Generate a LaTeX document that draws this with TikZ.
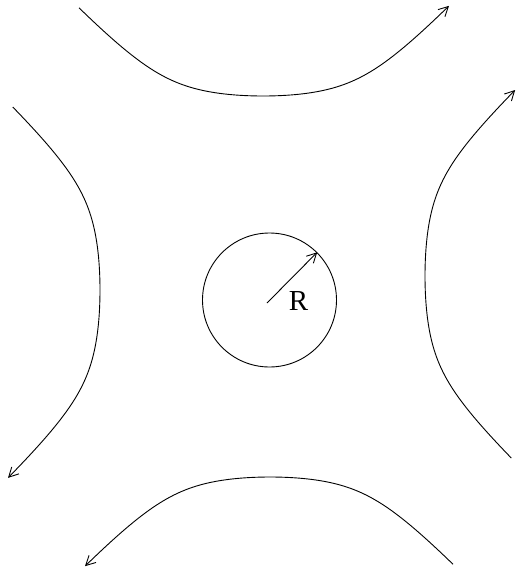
\documentclass[tikz,border=0pt]{standalone}
\usepackage{fontspec}
\setmainfont{Liberation Serif}
\usetikzlibrary{arrows.meta}
\begin{document}
\begin{tikzpicture}[x=1pt,y=-1pt,
  declare function={G(\x)=(\x+sqrt(\x*\x+0.36))/2;
                    F(\u)=108*(G(\u-0.98)+G(-\u-0.98)-2*G(-0.98));},
  flow/.style={line width=0.9pt},
  tip/.style={-{Straight Barb[length=9.5pt,width=10pt,line width=0.9pt]}},
  lbl/.style={font=\fontsize{29}{32}\selectfont, inner sep=0pt}]
\useasboundingbox (0,0) rectangle (516,573);
% top (left to right)
\draw[flow,tip] plot[domain=-1.84:1.86, samples=100, variable=\u, smooth]
  ({263+100*\u},{96-F(\u)});
% left (top to bottom)
\draw[flow,tip] plot[domain=-1.83:1.88, samples=100, variable=\u, smooth]
  ({100-F(\u)},{290+100*\u});
% right (bottom to top)
\draw[flow,tip] plot[domain=1.82:-1.86, samples=100, variable=\u, smooth]
  ({425+F(\u)},{276+100*\u});
% bottom (right to left)
\draw[flow,tip] plot[domain=1.83:-1.85, samples=100, variable=\u, smooth]
  ({270+100*\u},{477+F(\u)});
% circle
\node[circle, draw, line width=0.9pt, minimum size=134pt, inner sep=0pt] (c) at (269.5,300) {};
\coordinate (o) at (267,303);
\draw[flow,tip] (o) -- (c.45);
\node[lbl] (r) at (298.5,301) {R};
\end{tikzpicture}
\end{document}
